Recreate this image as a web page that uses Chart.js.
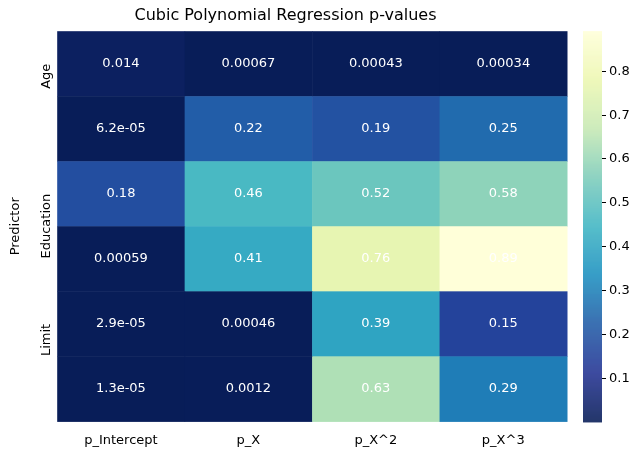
<!DOCTYPE html>
<html>
<head>
<meta charset="utf-8">
<script src="https://cdn.jsdelivr.net/npm/chart.js@4"></script>
<style>
  body { margin: 0; background: #fff; }
</style>
</head>
<body>
<canvas id="heatmap" width="641" height="451"></canvas>
<script>
const columns = ["p_Intercept", "p_X", "p_X^2", "p_X^3"];
const predictors = ["Age", "Cards", "Education", "Income", "Limit", "Rating"];
const pAge = [0.014, 0.00067, 0.00043, 0.00034];
const pCards = [6.2e-5, 0.22, 0.19, 0.25];
const pEducation = [0.18, 0.46, 0.52, 0.58];
const pIncome = [0.00059, 0.41, 0.76, 0.89];
const pLimit = [2.9e-5, 0.00046, 0.39, 0.15];
const pRating = [1.3e-5, 0.0012, 0.63, 0.29];
const colorbarTicks = [0.1, 0.2, 0.3, 0.4, 0.5, 0.6, 0.7, 0.8];

const rows = [pAge, pCards, pEducation, pIncome, pLimit, pRating];
const allValues = rows.flat();
const vMin = Math.min(...allValues);
const vMax = Math.max(...allValues);

// YlGnBu, reversed when used (low = dark)
const stops = ["#ffffd9", "#edf8b1", "#c7e9b4", "#7fcdbb", "#41b6c4", "#1d91c0", "#225ea8", "#253494", "#081d58"];
function hex(h) { return [1, 3, 5].map(i => parseInt(h.substr(i, 2), 16)); }
function colorFor(v) {
    let t = 1 - (v - vMin) / (vMax - vMin);
    t = Math.max(0, Math.min(1, t)) * (stops.length - 1);
    const i = Math.min(Math.floor(t), stops.length - 2);
    const f = t - i;
    const a = hex(stops[i]), b = hex(stops[i + 1]);
    const c = a.map((x, k) => Math.round(x + (b[k] - x) * f));
    return `rgb(${c[0]},${c[1]},${c[2]})`;
}

function fmt(v) {
    if (v < 1e-4) {
        const [m, e] = v.toExponential(1).split("e");
        const n = Math.abs(parseInt(e));
        return m + "e" + (e[0] === "-" ? "-" : "+") + String(n).padStart(2, "0");
    }
    return String(parseFloat(v.toPrecision(2)));
}

const heatmapPlugin = {
    id: "heatmap",
    beforeDatasetsDraw(chart) {
        const { ctx, chartArea, scales } = chart;
        const cw = chartArea.width / columns.length;
        const ch = chartArea.height / predictors.length;
        ctx.save();
        rows.forEach((row, r) => {
            row.forEach((v, c) => {
                const cx = scales.x.getPixelForValue(c);
                const cy = scales.y.getPixelForValue(r);
                ctx.fillStyle = colorFor(v);
                ctx.fillRect(cx - cw / 2, cy - ch / 2, cw + 0.5, ch + 0.5);
                ctx.fillStyle = "#fff";
                ctx.font = "13px 'DejaVu Sans'";
                ctx.textAlign = "center";
                ctx.textBaseline = "middle";
                ctx.fillText(fmt(v), cx, cy);
            });
        });

        // colorbar, mapped through the hidden cb scale
        const cb = scales.cb;
        const x0 = chartArea.right + 16, w = 19;
        for (let y = chartArea.top; y < chartArea.bottom; y++) {
            ctx.fillStyle = colorFor(cb.getValueForPixel(y + 0.5));
            ctx.fillRect(x0, y, w, 1.2);
        }
        ctx.fillStyle = "#000";
        ctx.strokeStyle = "#000";
        ctx.font = "13px 'DejaVu Sans'";
        ctx.textAlign = "left";
        ctx.textBaseline = "middle";
        colorbarTicks.forEach(t => {
            const y = Math.round(cb.getPixelForValue(t)) + 0.5;
            ctx.beginPath();
            ctx.moveTo(x0 + w, y);
            ctx.lineTo(x0 + w + 4, y);
            ctx.stroke();
            ctx.fillText(String(t), x0 + w + 7, y);
        });
        ctx.restore();
    }
};

new Chart(document.getElementById("heatmap"), {
    type: "bar",
    data: { labels: columns, datasets: [{ data: [] }] },
    options: {
        responsive: false,
        animation: false,
        devicePixelRatio: 1,
        layout: { padding: { right: 74, left: 4, top: 0 } },
        plugins: {
            legend: { display: false },
            tooltip: { enabled: false },
            title: {
                display: true,
                text: "Cubic Polynomial Regression p-values",
                color: "#000",
                font: { family: "DejaVu Sans", size: 16, weight: "normal" },
                padding: { top: 6, bottom: 6 }
            }
        },
        scales: {
            x: {
                type: "category",
                labels: columns,
                offset: true,
                grid: { display: false },
                border: { display: false },
                ticks: { color: "#000", font: { family: "DejaVu Sans", size: 13 }, maxRotation: 0 }
            },
            y: {
                type: "category",
                labels: predictors,
                offset: true,
                grid: { display: false },
                border: { display: false },
                ticks: { color: "#000", font: { family: "DejaVu Sans", size: 13 }, minRotation: 90, maxRotation: 90 },
                title: { display: true, text: "Predictor", color: "#000", font: { family: "DejaVu Sans", size: 13 } }
            },
            cb: {
                type: "linear",
                axis: "y",
                position: "right",
                display: false,
                min: vMin,
                max: vMax
            }
        }
    },
    plugins: [heatmapPlugin]
});
</script>
</body>
</html>
